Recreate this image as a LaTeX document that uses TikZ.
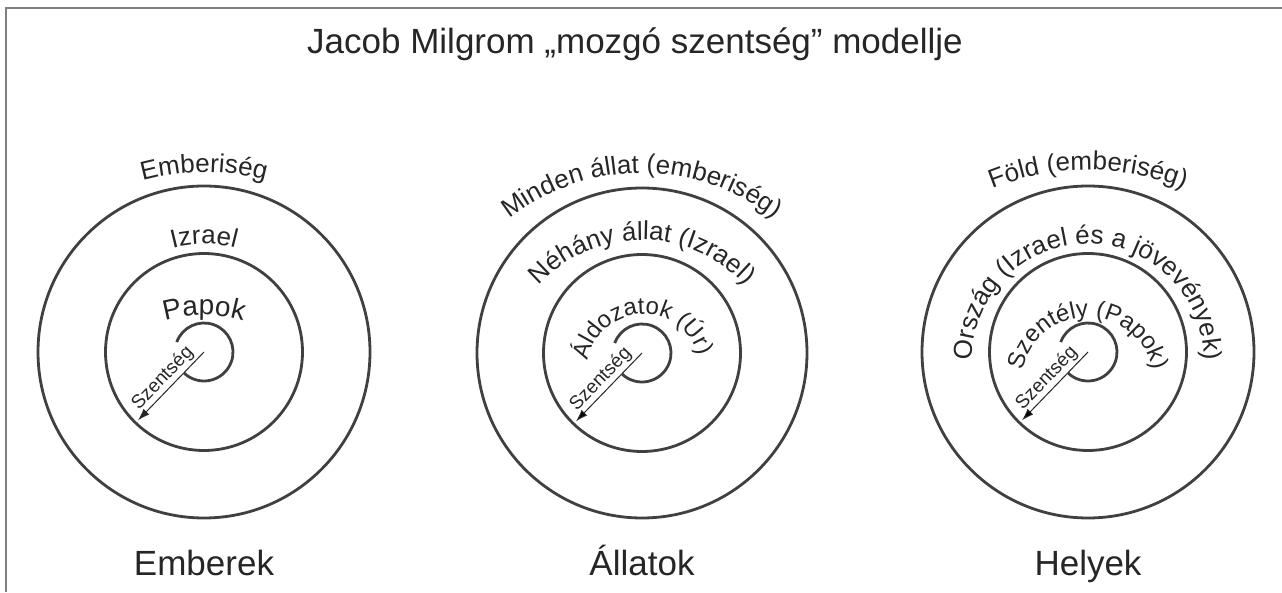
\documentclass[tikz,border=0pt]{standalone}
\usepackage{fontspec}
\setmainfont{Liberation Sans}
\usetikzlibrary{positioning,calc,decorations.text,arrows.meta}

\newcommand{\ttlfont}{\fontsize{35}{40}\selectfont}
\newcommand{\lblfont}{\fontsize{26}{30}\selectfont}
\newcommand{\inlblfont}{\fontsize{24}{28}\selectfont}
\newcommand{\papfont}{\fontsize{28}{32}\selectfont}
\newcommand{\arrfont}{\fontsize{19}{22}\selectfont}

\begin{document}
\begin{tikzpicture}[x=1pt, y=1pt,
  every node/.style={text=black!85},
  ring/.style={circle, draw=black!75, line width=2.8pt, inner sep=0pt},
  hook/.style={draw=black!75, line width=2.8pt},
  arr/.style={-{Latex[length=12pt,width=8pt]}, line width=1pt, draw=black!85},
  arclbl/.style={decorate, decoration={text along path, text align=center, text color=black!85}},
  catlbl/.style={font=\ttlfont, inner sep=0pt, text height=25.5pt},
  szent/.style={font=\arrfont, rotate=46, anchor=south, inner sep=2pt},
  frame/.style={draw=black!50, line width=2pt},
  ]

  \useasboundingbox (0,0) rectangle (1282,592);
  \draw[frame] (5.5,0) -- (5.5,583.5) -- (1282,583.5);

  \node[font=\ttlfont, anchor=base] (ttl) at (635,538) {Jacob Milgrom „mozgó szentség” modellje};

  % Emberek
  \coordinate (c1) at (204,240);
  \node[ring, minimum size=332pt] (o1) at (c1) {};
  \node[ring, minimum size=197pt] (i1) at (c1) {};
  \draw[hook] ($(c1)+(160:29pt)$) arc[start angle=160, end angle=-133, radius=29pt];
  \coordinate (t1) at ($(c1)+(226:95pt)$);
  \draw[arr] (c1) -- (t1) node[szent, midway] {Szentség};
  \path[arclbl, decoration={text={|\lblfont|Emberiség}}]
    ($(c1)+(0,-50)+(130:230pt)$) arc[start angle=130, end angle=50, radius=230pt];
  \path[arclbl, decoration={text={|\lblfont|Izrael}}]
    ($(c1)+(0,-12)+(150:120pt)$) arc[start angle=150, end angle=30, radius=120pt];
  \path[arclbl, decoration={text={|\papfont|Papok}}]
    ($(c1)+(0,-103)+(130:140pt)$) arc[start angle=130, end angle=50, radius=140pt];
  \node[catlbl, below=30pt of o1] (e1) {Emberek};

  % Állatok
  \coordinate (c2) at (642,239);
  \node[ring, minimum size=330pt] (o2) at (c2) {};
  \node[ring, minimum size=197pt] (i2) at (c2) {};
  \draw[hook] ($(c2)+(160:29pt)$) arc[start angle=160, end angle=-133, radius=29pt];
  \coordinate (t2) at ($(c2)+(226:95pt)$);
  \draw[arr] (c2) -- (t2) node[szent, midway] {Szentség};
  \path[arclbl, decoration={text={|\lblfont|Minden állat (emberiség)}}]
    ($(c2)+(0,-35)+(150:215pt)$) arc[start angle=150, end angle=30, radius=215pt];
  \path[arclbl, decoration={text={|\lblfont|Néhány állat (Izrael)}}]
    ($(c2)+(0,-27)+(160:140pt)$) arc[start angle=160, end angle=20, radius=140pt];
  \path[arclbl, decoration={text={|\inlblfont|Áldozatok (Úr)}}]
    ($(c2)+(2,-18)+(203:57pt)$) arc[start angle=203, end angle=-18, radius=57pt];
  \node[catlbl, below=30pt of o2] (e2) {Állatok};

  % Helyek
  \coordinate (c3) at (1088,240);
  \node[ring, minimum size=332pt] (o3) at (c3) {};
  \node[ring, minimum size=197pt] (i3) at (c3) {};
  \draw[hook] ($(c3)+(160:29pt)$) arc[start angle=160, end angle=-133, radius=29pt];
  \coordinate (t3) at ($(c3)+(226:95pt)$);
  \draw[arr] (c3) -- (t3) node[szent, midway] {Szentség};
  \path[arclbl, decoration={text={|\lblfont|Föld (emberiség)}}]
    ($(c3)+(0,-73)+(130:255pt)$) arc[start angle=130, end angle=50, radius=255pt];
  \path[arclbl, decoration={text={|\lblfont|Ország (Izrael és a jövevények)}}]
    ($(c3)+(0,-8)+(220:116pt)$) arc[start angle=220, end angle=-40, radius=116pt];
  \path[arclbl, decoration={text={|\inlblfont|Szentély (Papok)}}]
    ($(c3)+(0,-31)+(200:66pt)$) arc[start angle=200, end angle=-20, radius=66pt];
  \node[catlbl, below=30pt of o3] (e3) {Helyek};

\end{tikzpicture}
\end{document}
